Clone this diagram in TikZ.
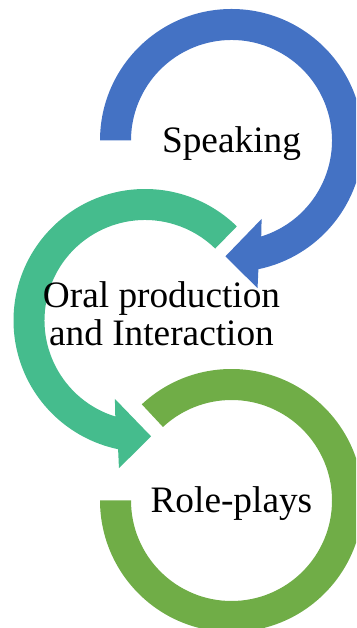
\documentclass[tikz,border=0pt]{standalone}
\usepackage{fontspec}
\setmainfont{Liberation Serif}
\definecolor{arrowblue}{HTML}{4472C4}
\definecolor{arrowteal}{HTML}{45BC8D}
\definecolor{arrowgreen}{HTML}{70AD47}
\tikzset{
  label text/.style={font=\fontsize{37.3}{38}\selectfont, inner sep=0pt, align=center, text=black},
}
% ring radii and arrowhead geometry
\newcommand{\rin}{100.5}
\newcommand{\rout}{131.5}
\begin{document}
\begin{tikzpicture}[x=1pt,y=1pt]
  \useasboundingbox (0,0) rectangle (356,628);
  \clip (0,0) rectangle (356,628);

  % top ring: from the left, clockwise, head pointing left at the bottom
  \begin{scope}[shift={(231.5,487.5)}]
    \fill[arrowblue] (180:\rout) arc[start angle=180, end angle=-78.2, radius=\rout]
      -- (-80:150) -- (-93:116) -- (-69:84) -- (-72.8:\rin)
      arc[start angle=-72.8, end angle=180, radius=\rin] -- cycle;
  \end{scope}

  % middle ring: from upper right, counter-clockwise, head pointing right
  \begin{scope}[shift={(145,307.5)}]
    \fill[arrowteal] (45.7:\rout) arc[start angle=45.7, end angle=258.2, radius=\rout]
      -- (260:150) -- (273:116) -- (249:84) -- (252.8:\rin)
      arc[start angle=252.8, end angle=45.7, radius=\rin] -- cycle;
  \end{scope}

  % bottom ring: from upper left, clockwise, ending flat on the left
  \begin{scope}[shift={(231.5,127.5)}]
    \fill[arrowgreen] (133:\rout) arc[start angle=133, end angle=-180, radius=\rout]
      -- (-180:\rin)
      arc[start angle=-180, end angle=133, radius=\rin] -- cycle;
  \end{scope}

  % the two-line label sits on the baseline of its last line
  \node[label text, anchor=base] (speaking) at (231.5,475) {Speaking};
  \node[label text, anchor=base] (oral) at (161.5,282) {Oral production\\and Interaction};
  \node[label text, anchor=base] (roleplays) at (231.4,115.3) {Role-plays};
\end{tikzpicture}
\end{document}
